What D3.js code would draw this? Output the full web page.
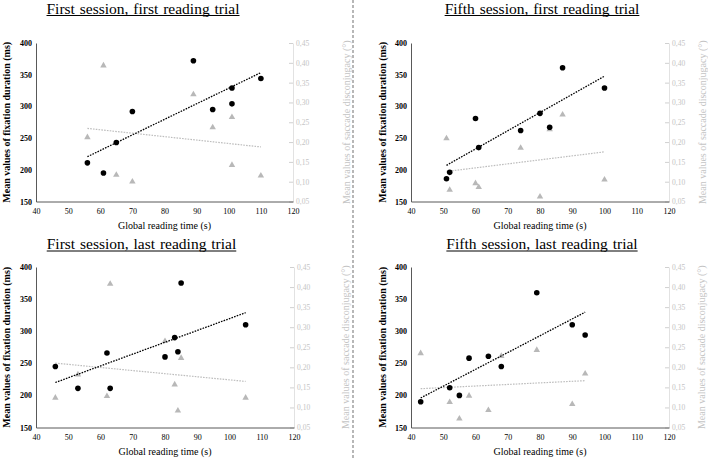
<!DOCTYPE html>
<html>
<head>
<meta charset="utf-8">
<script src="https://cdn.jsdelivr.net/npm/d3@7"></script>
<style>
  html, body { margin: 0; padding: 0; background: #fff; }
  svg { display: block; }
  svg text { font-family: "Liberation Serif", "Times New Roman", serif; }
</style>
</head>
<body>
<svg id="chart" width="708" height="459"></svg>
<script>
// ---------------- data ----------------
const panelTitles = [
  "First session, first reading trial",
  "Fifth session, first reading trial",
  "First session, last reading trial",
  "Fifth session, last reading trial"
];
const xTitle = "Global reading time (s)";
const yLeftTitle = "Mean values of fixation duration (ms)";
const yRightTitle = "Mean values of saccade disconjugacy (°)";

const xTicks = [40, 50, 60, 70, 80, 90, 100, 110, 120];
const yLeftTicks = [150, 200, 250, 300, 350, 400];
const yRightTicks = [0.05, 0.10, 0.15, 0.20, 0.25, 0.30, 0.35, 0.40, 0.45];

// Panel 1: first session, first reading trial
const time1 = [56, 61, 65, 70, 89, 95, 101, 101, 110];
const fix1  = [211, 195, 243, 292, 372, 295, 329, 304, 344];
const dis1  = [0.212, 0.393, 0.117, 0.100, 0.320, 0.237, 0.263, 0.142, 0.115];

// Panel 2: fifth session, first reading trial
const time2 = [51, 52, 60, 61, 74, 80, 83, 87, 100];
const fix2  = [186, 196, 281, 235, 262, 289, 267, 361, 329];
const dis2  = [0.209, 0.079, 0.096, 0.086, 0.185, 0.062, 0.232, 0.269, 0.105];

// Panel 3: first session, last reading trial
const time3 = [46, 53, 62, 63, 80, 83, 84, 85, 105];
const fix3  = [245, 211, 266, 211, 260, 290, 268, 375, 310];
const dis3  = [0.124, 0.182, 0.128, 0.408, 0.265, 0.157, 0.092, 0.223, 0.124];

// Panel 4: fifth session, last reading trial
const time4 = [43, 52, 55, 58, 64, 68, 79, 90, 94];
const fix4  = [190, 212, 200, 258, 261, 245, 360, 310, 294];
const dis4  = [0.235, 0.113, 0.072, 0.129, 0.093, 0.228, 0.243, 0.108, 0.184];

// ---------------- layout ----------------
const panels = [
  { title: panelTitles[0], time: time1, fix: fix1, dis: dis1, left: 36,  right: 293, top: 43,  bottom: 201.5, titleX: 143,   titleY: 13.5, yTitleX: 6,   rTitleX: 346 },
  { title: panelTitles[1], time: time2, fix: fix2, dis: dis2, left: 411, right: 669, top: 43,  bottom: 201.5, titleX: 542,   titleY: 13.5, yTitleX: 382, rTitleX: 702 },
  { title: panelTitles[2], time: time3, fix: fix3, dis: dis3, left: 36,  right: 294, top: 267, bottom: 427.5, titleX: 141.5, titleY: 249,  yTitleX: 6,   rTitleX: 345 },
  { title: panelTitles[3], time: time4, fix: fix4, dis: dis4, left: 411, right: 669, top: 267, bottom: 427.5, titleX: 542,   titleY: 249,  yTitleX: 382, rTitleX: 701 }
];

const svg = d3.select("#chart");
const locale = d3.formatLocale({ decimal: ",", thousands: ".", grouping: [3], currency: ["", "€"] });
const fmtR = locale.format(".2f");

const axisColor = "#595959";
const lightText = "#c4c4c4";
const triColor = "#b8b8b8";

function regression(xs, ys) {
  const mx = d3.mean(xs), my = d3.mean(ys);
  let sxy = 0, sxx = 0;
  xs.forEach((x, i) => { sxy += (x - mx) * (ys[i] - my); sxx += (x - mx) * (x - mx); });
  const b = sxy / sxx, a = my - b * mx;
  const [x0, x1] = d3.extent(xs);
  return [[x0, a + b * x0], [x1, a + b * x1]];
}

// separator
svg.append("line")
  .attr("x1", 353).attr("x2", 353).attr("y1", 0).attr("y2", 459)
  .attr("stroke", "#a6a6a6").attr("stroke-width", 1.6).attr("stroke-dasharray", "3,2");

panels.forEach(p => {
  const g = svg.append("g");
  const x = d3.scaleLinear().domain([40, 120]).range([p.left, p.right]);
  const yL = d3.scaleLinear().domain([150, 400]).range([p.bottom, p.top]);
  const yR = d3.scaleLinear().domain([0.05, 0.45]).range([p.bottom, p.top]);

  // title with underline
  const t = g.append("text")
    .attr("x", p.titleX).attr("y", p.titleY)
    .attr("text-anchor", "middle")
    .attr("font-size", 15.5).attr("fill", "#000")
    .attr("word-spacing", 1)
    .text(p.title);
  const tw = t.node().getComputedTextLength();
  g.append("line")
    .attr("x1", p.titleX - tw / 2).attr("x2", p.titleX + tw / 2)
    .attr("y1", p.titleY + 2).attr("y2", p.titleY + 2)
    .attr("stroke", "#000").attr("stroke-width", 1);

  // right axis (secondary)
  const ra = g.append("g").attr("transform", `translate(${p.right},0)`)
    .call(d3.axisRight(yR).tickValues(yRightTicks).tickFormat(fmtR).tickSizeInner(-4).tickSizeOuter(0).tickPadding(3));
  ra.select(".domain").attr("stroke", "#e2e2e2");
  ra.selectAll(".tick line").attr("stroke", "#d0d0d0");
  ra.selectAll(".tick text").attr("fill", lightText).attr("font-size", 7.5);

  // left axis
  const la = g.append("g").attr("transform", `translate(${p.left},0)`)
    .call(d3.axisLeft(yL).tickValues(yLeftTicks).tickSize(0).tickPadding(4));
  la.select(".domain").attr("stroke", axisColor).attr("stroke-width", 1);
  la.selectAll(".tick text").attr("fill", "#000").attr("font-size", 8).attr("font-weight", "bold");

  // bottom axis
  const ba = g.append("g").attr("transform", `translate(0,${p.bottom})`)
    .call(d3.axisBottom(x).tickValues(xTicks).tickSize(0).tickPadding(7));
  ba.select(".domain").attr("stroke", axisColor).attr("stroke-width", 1);
  ba.selectAll(".tick text").attr("fill", "#000").attr("font-size", 8);

  // axis titles
  g.append("text")
    .attr("x", (p.left + p.right) / 2).attr("y", p.bottom + 27)
    .attr("text-anchor", "middle").attr("font-size", 10).attr("fill", "#000")
    .text(xTitle);
  g.append("text")
    .attr("transform", `translate(${p.yTitleX},${(p.top + p.bottom) / 2}) rotate(-90)`)
    .attr("text-anchor", "middle").attr("dy", "0.35em")
    .attr("font-size", 10).attr("font-weight", "bold").attr("fill", "#000")
    .text(yLeftTitle);
  g.append("text")
    .attr("transform", `translate(${p.rTitleX},${(p.top + p.bottom) / 2}) rotate(-90)`)
    .attr("text-anchor", "middle").attr("dy", "0.35em")
    .attr("font-size", 10).attr("fill", lightText)
    .text(yRightTitle);

  // triangles (disconjugacy)
  const tri = d3.symbol().type(d3.symbolTriangle).size(18);
  g.selectAll(".tri").data(p.time.map((v, i) => [v, p.dis[i]])).join("path")
    .attr("d", tri)
    .attr("transform", d => `translate(${x(d[0])},${yR(d[1])})`)
    .attr("fill", triColor);

  // gray trend line
  const rl2 = regression(p.time, p.dis);
  g.append("line")
    .attr("x1", x(rl2[0][0])).attr("y1", yR(rl2[0][1]))
    .attr("x2", x(rl2[1][0])).attr("y2", yR(rl2[1][1]))
    .attr("stroke", "#bdbdbd").attr("stroke-width", 1.2).attr("stroke-dasharray", "1.6,1.2");

  // black trend line
  const rl = regression(p.time, p.fix);
  g.append("line")
    .attr("x1", x(rl[0][0])).attr("y1", yL(rl[0][1]))
    .attr("x2", x(rl[1][0])).attr("y2", yL(rl[1][1]))
    .attr("stroke", "#000").attr("stroke-width", 1.3).attr("stroke-dasharray", "1.6,1.2");

  // circles (fixation duration)
  g.selectAll(".dot").data(p.time.map((v, i) => [v, p.fix[i]])).join("circle")
    .attr("cx", d => x(d[0])).attr("cy", d => yL(d[1]))
    .attr("r", 2.8).attr("fill", "#000");
});
</script>
</body>
</html>
